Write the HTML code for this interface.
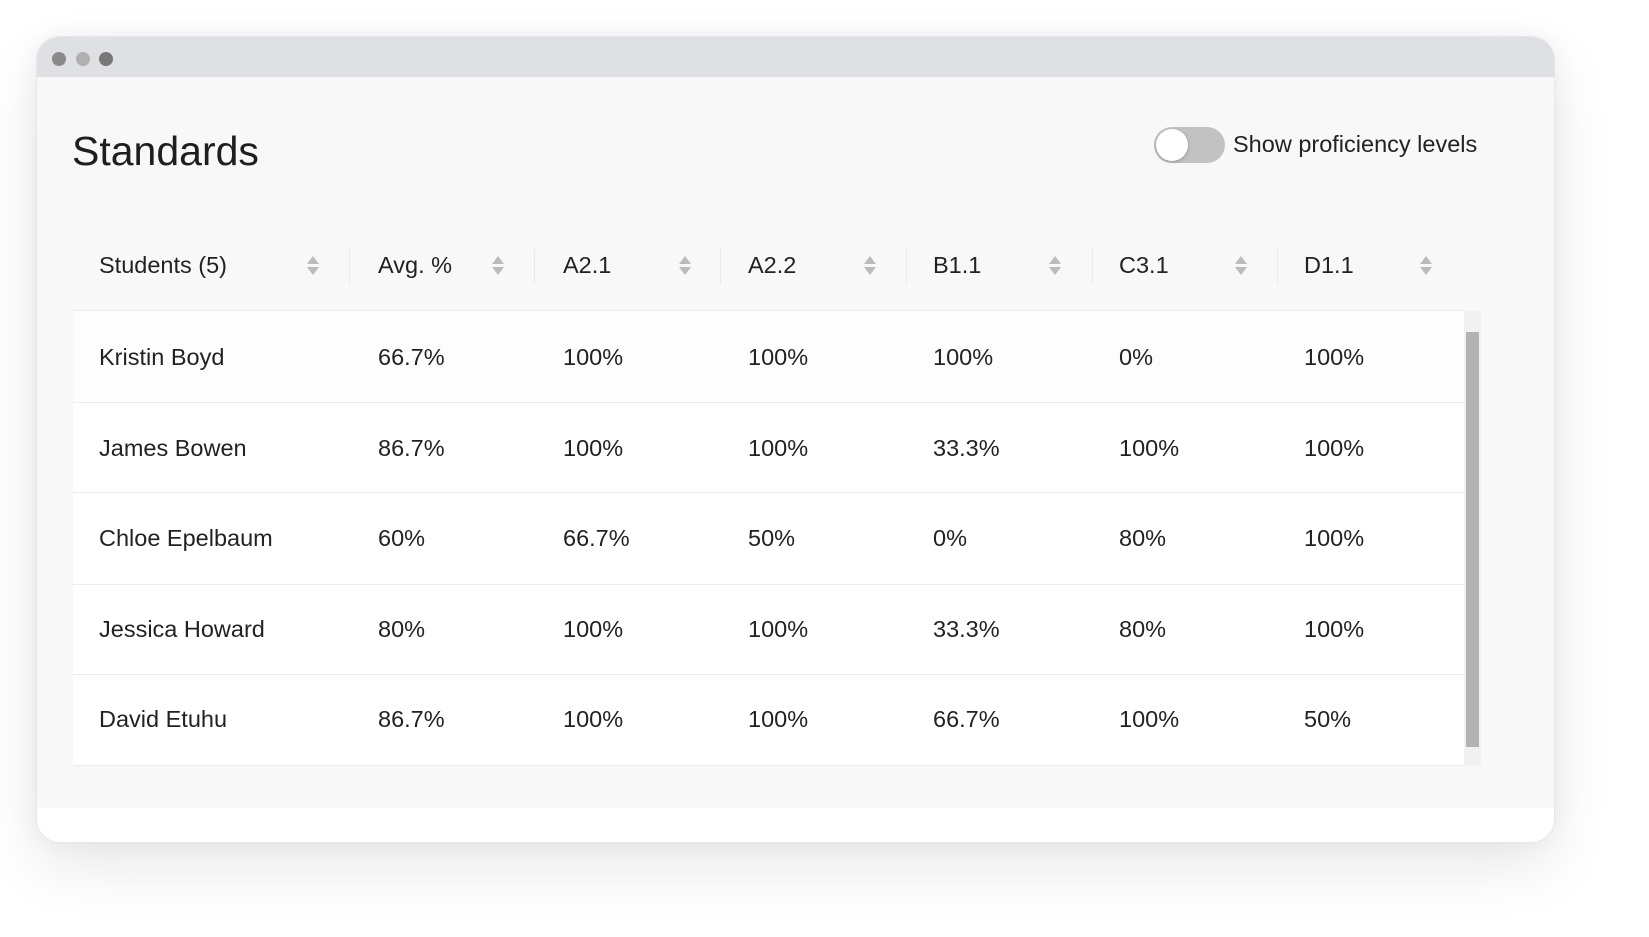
<!DOCTYPE html>
<html><head><meta charset="utf-8"><style>
*{margin:0;padding:0;box-sizing:border-box}
body{width:1649px;height:937px;background:#fff;position:relative;overflow:hidden;font-family:"Liberation Sans",sans-serif;color:#222}
.win{position:absolute;left:36px;top:36px;width:1519px;height:807px;background:#fff;border-radius:24px;box-shadow:0 24px 60px rgba(0,0,0,0.09),0 0 24px rgba(0,0,0,0.05);overflow:hidden;border:1px solid #e6e7ea}
.bar{position:absolute;left:0;top:0;right:0;height:40px;background:#dfe0e3}
.dot{position:absolute;top:15px;width:14px;height:14px;border-radius:50%}
.content{position:absolute;left:0;top:40px;right:0;height:731px;background:#f8f8f8}
.a{position:absolute;white-space:nowrap}
.t{font-size:23.5px;line-height:24px}
.sort{position:absolute;width:12px;height:20px}
.sort:before{content:"";position:absolute;left:0;top:0;border-left:6px solid transparent;border-right:6px solid transparent;border-bottom:8px solid #bbb}
.sort:after{content:"";position:absolute;left:0;top:11px;border-left:6px solid transparent;border-right:6px solid transparent;border-top:8px solid #bbb}
.div{position:absolute;top:249px;width:1px;height:35px;background:#eaeaea}
.row{position:absolute;left:73px;width:1391px;background:#fff;border-bottom:1px solid #ececec}
</style></head><body>
<div class="win">
<div class="bar">
<div class="dot" style="left:15px;background:#8a8a8a"></div>
<div class="dot" style="left:39px;background:#b0b0b0"></div>
<div class="dot" style="left:62px;background:#777"></div>
</div>
<div class="content"></div>
</div>
<div class="a" style="left:72px;top:128px;font-size:41px;line-height:46px;color:#1e1e1e">Standards</div>
<div class="a" style="left:1154px;top:127px;width:71px;height:36px;border-radius:18px;background:#c2c2c2"></div>
<div class="a" style="left:1156px;top:129px;width:32px;height:32px;border-radius:50%;background:#fff;box-shadow:0 1px 3px rgba(0,0,0,.25)"></div>
<div class="a t" style="left:1233px;top:132px">Show proficiency levels</div>

<div class="a" style="left:73px;top:310px;width:1391px;height:1px;background:#ececec"></div>
<div class="row" style="top:311px;height:92px;background:#fdfdfd"></div>
<div class="row" style="top:403px;height:90px"></div>
<div class="row" style="top:493px;height:92px"></div>
<div class="row" style="top:585px;height:90px"></div>
<div class="row" style="top:675px;height:91px"></div>
<div class="a" style="left:1464px;top:311px;width:17px;height:455px;background:#f1f1f1"></div>
<div class="a" style="left:1466px;top:332px;width:13px;height:415px;background:#b3b3b3"></div>

<div class="div" style="left:349px"></div><div class="div" style="left:534px"></div><div class="div" style="left:720px"></div><div class="div" style="left:906px"></div><div class="div" style="left:1092px"></div><div class="div" style="left:1277px"></div>
<div class="sort" style="left:307px;top:256px"></div><div class="sort" style="left:492px;top:256px"></div><div class="sort" style="left:679px;top:256px"></div><div class="sort" style="left:864px;top:256px"></div><div class="sort" style="left:1049px;top:256px"></div><div class="sort" style="left:1235px;top:256px"></div><div class="sort" style="left:1420px;top:256px"></div>

<div class="a t" style="left:99px;top:253px">Students (5)</div>
<div class="a t" style="left:378px;top:253px">Avg. %</div>
<div class="a t" style="left:563px;top:253px">A2.1</div>
<div class="a t" style="left:748px;top:253px">A2.2</div>
<div class="a t" style="left:933px;top:253px">B1.1</div>
<div class="a t" style="left:1119px;top:253px">C3.1</div>
<div class="a t" style="left:1304px;top:253px">D1.1</div>

<div class="a t" style="left:99px;top:345px">Kristin Boyd</div><div class="a t" style="left:378px;top:345px">66.7%</div><div class="a t" style="left:563px;top:345px">100%</div><div class="a t" style="left:748px;top:345px">100%</div><div class="a t" style="left:933px;top:345px">100%</div><div class="a t" style="left:1119px;top:345px">0%</div><div class="a t" style="left:1304px;top:345px">100%</div>
<div class="a t" style="left:99px;top:436px">James Bowen</div><div class="a t" style="left:378px;top:436px">86.7%</div><div class="a t" style="left:563px;top:436px">100%</div><div class="a t" style="left:748px;top:436px">100%</div><div class="a t" style="left:933px;top:436px">33.3%</div><div class="a t" style="left:1119px;top:436px">100%</div><div class="a t" style="left:1304px;top:436px">100%</div>
<div class="a t" style="left:99px;top:526px">Chloe Epelbaum</div><div class="a t" style="left:378px;top:526px">60%</div><div class="a t" style="left:563px;top:526px">66.7%</div><div class="a t" style="left:748px;top:526px">50%</div><div class="a t" style="left:933px;top:526px">0%</div><div class="a t" style="left:1119px;top:526px">80%</div><div class="a t" style="left:1304px;top:526px">100%</div>
<div class="a t" style="left:99px;top:617px">Jessica Howard</div><div class="a t" style="left:378px;top:617px">80%</div><div class="a t" style="left:563px;top:617px">100%</div><div class="a t" style="left:748px;top:617px">100%</div><div class="a t" style="left:933px;top:617px">33.3%</div><div class="a t" style="left:1119px;top:617px">80%</div><div class="a t" style="left:1304px;top:617px">100%</div>
<div class="a t" style="left:99px;top:707px">David Etuhu</div><div class="a t" style="left:378px;top:707px">86.7%</div><div class="a t" style="left:563px;top:707px">100%</div><div class="a t" style="left:748px;top:707px">100%</div><div class="a t" style="left:933px;top:707px">66.7%</div><div class="a t" style="left:1119px;top:707px">100%</div><div class="a t" style="left:1304px;top:707px">50%</div>
</body></html>
